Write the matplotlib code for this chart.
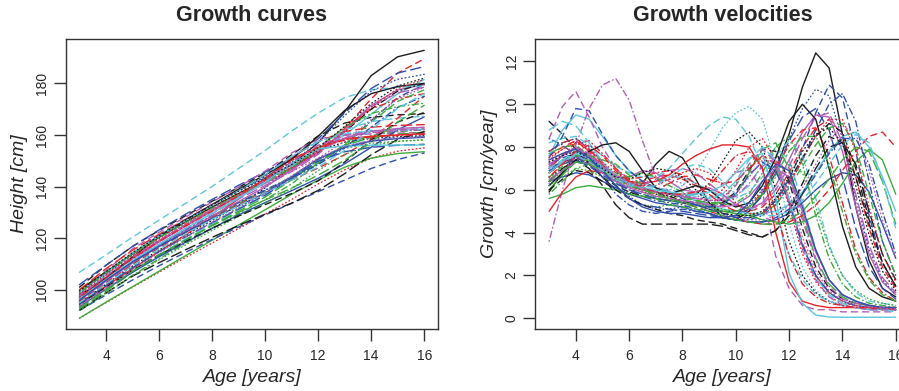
"""
Berkeley-style growth panel: smoothed heights and growth velocities, ages 3-16.
"""
import matplotlib
matplotlib.use('Agg')
import matplotlib.pyplot as plt

plt.rcParams['font.family'] = ['Liberation Sans', 'DejaVu Sans']
plt.rcParams['lines.scale_dashes'] = False

TEXT = '#262626'
FRAME = '#333333'
# matplot-style cycles: colours 1:6, line types 1:5
COLORS = ['#1c1c1c', '#e8222a', '#3bab3b', '#2f4fad', '#5cc6de', '#b35db6']
LTYS = ['-', (0, (4.5, 3.5)), (0, (0.5, 2.2)), (0, (0.5, 2.4, 4.5, 2.4)), (0, (7.5, 3.5))]

HEIGHT_AGES = [3, 4, 5, 6, 7, 8, 9, 10, 11, 12, 13, 14, 15, 16]
VELOCITY_AGES = [3.0, 3.5, 4.0, 4.5, 5.0, 5.5, 6.0, 6.5, 7.0, 7.5, 8.0, 8.5, 9.0, 9.5,
                 10.0, 10.5, 11.0, 11.5, 12.0, 12.5, 13.0, 13.5, 14.0, 14.5, 15.0, 15.5, 16.0]

# height [cm] per child at HEIGHT_AGES
heights = [
    [100, 107, 113.8, 120.3, 126.3, 132, 137.3, 142.5, 148.5, 157, 169, 183, 190.3, 192.8],
    [98, 105.2, 112.4, 119, 125.2, 131, 136.5, 141.8, 147.2, 153.5, 162.5, 174, 184, 189.5],
    [94, 101.4, 108.2, 114.5, 120.4, 126.2, 131.8, 137.5, 144.2, 150.5, 154.8, 156.8, 157.6, 158],
    [96, 103.8, 110.9, 117.2, 123, 128.5, 133.8, 138.7, 143.6, 149, 156, 165.5, 174.5, 179.5],
    [93, 100.3, 107.3, 113.6, 119.6, 125.5, 131.2, 136.8, 143, 150.6, 155.5, 158, 159, 159.5],
    [97, 104.6, 112, 118.5, 124.6, 130.5, 136.2, 141.3, 146.5, 153, 162, 171.5, 177.5, 179.5],
    [101, 109.5, 116.8, 123, 128.7, 134.3, 139.7, 145.2, 152.3, 159.6, 164.6, 166.8, 167.8, 168.3],
    [89, 95, 101, 106.8, 112.5, 118.1, 123.7, 129.3, 135, 141, 146.5, 151, 153.7, 155],
    [92, 98.6, 105.6, 112, 118, 123.9, 129.5, 134.9, 141, 149.2, 156.2, 159.8, 161.3, 162],
    [102, 109.5, 116.8, 123.2, 129.3, 135, 140.5, 145.6, 151, 158.5, 168.5, 178, 184, 186.5],
    [97, 105.8, 114, 121, 127.2, 133, 138.5, 143.5, 148.4, 153.6, 160, 168, 176, 181.5],
    [98, 107.5, 115.8, 122.3, 128.2, 134, 139.8, 146, 153, 158.5, 160, 160.4, 160.7, 161],
    [95, 102.2, 109.2, 115.4, 121.2, 126.9, 132.7, 139.5, 147.8, 154, 157.2, 158.7, 159.3, 159.7],
    [96.5, 104.4, 112.2, 119, 125.2, 131, 136.5, 141.5, 147, 154.5, 163, 170, 174, 176],
    [92.5, 99.5, 106.8, 113.2, 119.2, 125, 130.5, 135.9, 142.6, 150.2, 156, 159, 160.3, 161],
    [93.5, 100.2, 106.8, 112.8, 118.4, 123.8, 129, 133.8, 138.4, 143.2, 148.8, 155.2, 162, 167],
    [106.8, 113.5, 120.4, 127, 133.5, 140, 147, 154, 161.5, 168.5, 174.5, 177.5, 178.5, 179],
    [97.5, 105.3, 112.8, 119.3, 125.4, 131, 136.3, 141.1, 145.8, 151, 157.5, 166, 174, 178.5],
    [99, 106.6, 113.9, 120.3, 126.3, 132, 137.4, 142.3, 147.3, 153.3, 161.2, 170, 177, 180],
    [100, 108.2, 115.3, 121.5, 127.3, 133, 138.6, 144.4, 151.3, 157.5, 161.3, 163, 163.7, 164],
    [89, 95.2, 101.2, 107.2, 113.2, 119.2, 125.1, 131, 137, 142.5, 147.5, 151, 152.8, 153.5],
    [92, 98, 103.8, 109.3, 114.5, 119.5, 124.3, 129, 133.5, 138, 142.5, 147, 150.5, 153],
    [97, 104.5, 111.5, 117.8, 123.8, 129.8, 136, 143.2, 151.8, 157.6, 160.4, 161.6, 162.1, 162.4],
    [94, 100.8, 110.8, 119, 125.2, 131, 136.6, 142.2, 148.5, 155, 159, 160.9, 161.6, 162],
    [92, 98.8, 105.3, 110.5, 115.5, 120.3, 124.9, 129.3, 133.6, 138.5, 145, 152.3, 158.3, 161.3],
    [95, 101.4, 108.2, 114.8, 121.3, 128, 135.2, 143.2, 150.8, 155, 158.5, 159.5, 160, 160.5],
    [95, 102.4, 109.8, 116.3, 122.3, 128, 133.5, 138.5, 143.4, 148.8, 156.3, 165, 173, 177.5],
    [98.5, 106.5, 114.2, 121, 127.2, 133, 138.6, 143.8, 149.5, 157, 167.5, 177, 181.6, 183.5],
    [96, 103.6, 111, 117.6, 123.8, 129.9, 135.7, 141.4, 147.8, 155.6, 162, 165.2, 166.5, 167.3],
    [96, 103.6, 111, 117.5, 123.6, 129.5, 135.2, 140.4, 145.8, 152.5, 161.6, 171, 176.3, 178.5],
    [97.5, 104.7, 112.7, 120.5, 127, 133, 139, 144.5, 150.5, 159.5, 169.5, 176, 178.8, 180],
    [95.5, 102.8, 110, 116.4, 122.3, 127.8, 133, 137.8, 142.5, 147.2, 152.3, 158.5, 166.5, 175],
    [92, 98.7, 105.4, 111.6, 117.4, 123, 128.4, 133.5, 139.2, 146.2, 152.5, 156, 157.5, 158.2],
    [96.5, 103.8, 110.9, 117.3, 123.2, 128.7, 133.8, 138.5, 143.2, 148.5, 155, 163, 170.7, 175],
    [99, 106.8, 114.3, 120.7, 126.8, 132.7, 138.4, 144.6, 151.6, 157.4, 160.4, 161.6, 162, 162.2],
    [96, 103.3, 110.4, 116.8, 122.8, 128.6, 134.2, 139.8, 146.5, 153.6, 158.8, 161.4, 162.5, 163],
    [94.5, 101, 107.6, 113.5, 118.8, 123.8, 128.6, 133, 137.3, 142.2, 149.5, 158, 165, 168.7],
    [98, 105.9, 113.3, 119.9, 126, 131.8, 137.3, 142.4, 147.4, 153.3, 161.4, 170.7, 178, 181.5],
    [99, 106.8, 113.9, 120.2, 126, 131.6, 136.8, 141.8, 147.2, 154.8, 163, 168.3, 171, 172.3],
    [94.5, 101.7, 108.6, 114.8, 120.5, 126, 131.3, 136.6, 143.4, 149.8, 153.5, 155.2, 156, 156.4],
    [96.5, 104, 111.2, 117.6, 123.7, 129.6, 135.5, 141.7, 149, 154.6, 155.8, 156, 156.1, 156.1],
    [97.5, 105.2, 112.7, 119.2, 125.2, 131, 136.6, 142.4, 149.6, 156, 159.8, 161.4, 162, 162.4],
    [99.5, 107, 114.4, 120.9, 127, 132.8, 138.2, 143.2, 148.5, 155, 163.3, 172.2, 179, 182],
    [97, 104.6, 112.2, 118.7, 124.7, 130.5, 136.4, 143.1, 150.2, 155.3, 158, 159.3, 159.8, 160.2],
    [93, 100.1, 107.2, 113.5, 119.3, 124.8, 130, 134.8, 139.4, 144.4, 150.2, 157.3, 165, 171.5],
    [96, 103.7, 110.8, 116.8, 122.3, 127.6, 132.6, 137.5, 143.8, 150.7, 155.2, 157.6, 158.6, 159.1],
    [95, 102.3, 109.3, 115.7, 121.6, 127.3, 132.6, 137.6, 142.4, 147.6, 154, 162, 170.3, 176],
    [93.5, 100.5, 107.9, 114.4, 120.4, 126.1, 131.7, 137.3, 144, 151, 155.6, 157.9, 158.8, 159.3],
]

# growth velocity [cm/year] per child at VELOCITY_AGES
velocities = [
    [5.9, 6.8, 7.6, 7.3, 6.6, 6.0, 5.8, 6.3, 7.2, 7.8, 7.5, 6.5, 5.4, 4.7, 4.6, 5.0, 5.8, 7.0, 8.6, 10.8, 12.4, 11.7, 8.6, 5.2, 2.7, 1.4, 1.0],
    [7.6, 8.0, 8.3, 7.8, 7.0, 6.5, 6.3, 6.4, 6.6, 6.7, 6.5, 6.2, 5.8, 5.3, 5.0, 5.0, 5.2, 5.8, 6.8, 8.0, 8.9, 9.3, 8.6, 6.6, 4.2, 2.4, 1.4],
    [6.8, 7.3, 7.7, 7.4, 6.9, 6.2, 5.6, 5.3, 5.2, 5.3, 5.4, 5.4, 5.3, 5.6, 6.3, 7.1, 7.5, 7.0, 5.4, 3.4, 1.9, 1.2, 0.8, 0.6, 0.5, 0.5, 0.4],
    [8.4, 8.1, 7.6, 7.2, 6.8, 6.4, 6.0, 5.7, 5.5, 5.4, 5.3, 5.1, 4.9, 4.7, 4.6, 4.6, 4.8, 5.3, 6.2, 7.4, 8.8, 10.0, 10.5, 9.2, 6.4, 3.6, 2.0],
    [6.2, 6.8, 7.3, 7.2, 6.8, 6.4, 6.2, 6.3, 6.4, 6.6, 6.6, 6.3, 6.0, 5.7, 5.7, 6.2, 7.2, 8.0, 7.4, 5.4, 3.2, 1.8, 1.1, 0.8, 0.6, 0.5, 0.5],
    [7.0, 7.6, 8.0, 7.6, 7.0, 6.6, 6.6, 6.9, 6.8, 6.4, 6.0, 5.9, 6.1, 5.8, 5.3, 5.1, 5.4, 6.2, 7.4, 8.7, 9.5, 9.4, 7.8, 5.2, 3.0, 1.7, 1.1],
    [9.2, 8.6, 7.9, 7.2, 6.6, 6.2, 5.9, 5.7, 5.6, 5.5, 5.5, 5.4, 5.3, 5.4, 5.9, 6.9, 7.9, 7.8, 6.4, 4.2, 2.4, 1.4, 0.9, 0.7, 0.6, 0.5, 0.5],
    [7.4, 7.9, 8.3, 7.8, 7.1, 6.6, 6.3, 6.1, 5.9, 5.8, 5.7, 5.6, 5.6, 6.0, 6.9, 8.0, 8.4, 7.4, 5.2, 3.0, 1.7, 1.0, 0.7, 0.6, 0.5, 0.4, 0.4],
    [5.8, 6.4, 7.0, 7.2, 6.9, 6.5, 6.2, 6.0, 5.9, 5.8, 5.6, 5.5, 5.4, 5.3, 5.4, 5.8, 6.8, 8.0, 8.5, 7.2, 4.8, 2.8, 1.6, 1.0, 0.7, 0.6, 0.5],
    [7.2, 7.5, 7.7, 7.4, 6.9, 6.2, 5.6, 5.3, 5.2, 5.1, 5.0, 4.9, 4.8, 4.7, 4.8, 5.1, 5.7, 6.8, 8.3, 9.4, 9.8, 8.8, 6.6, 4.2, 2.4, 1.4, 0.9],
    [7.6, 8.8, 9.5, 9.3, 8.5, 7.6, 6.9, 6.4, 6.1, 5.9, 5.7, 5.5, 5.3, 5.1, 5.0, 4.9, 4.9, 5.0, 5.3, 5.9, 6.8, 7.8, 8.5, 8.7, 8.0, 6.6, 5.0],
    [8.4, 9.9, 10.6, 9.4, 8.0, 7.0, 6.4, 6.1, 5.9, 5.8, 5.8, 5.8, 5.9, 6.2, 6.8, 7.0, 5.9, 2.9, 1.4, 0.6, 0.4, 0.4, 0.3, 0.3, 0.3, 0.3, 0.3],
    [6.6, 7.0, 7.4, 7.2, 6.8, 6.4, 6.1, 5.9, 5.8, 5.7, 5.7, 5.8, 6.3, 7.3, 8.3, 8.7, 8.0, 6.0, 3.6, 2.0, 1.2, 0.8, 0.6, 0.5, 0.5, 0.4, 0.4],
    [7.0, 7.6, 8.2, 8.3, 7.7, 7.0, 6.5, 6.6, 6.8, 6.9, 6.7, 6.3, 5.8, 5.3, 5.0, 5.2, 5.9, 7.0, 8.1, 8.8, 8.9, 7.6, 5.4, 3.2, 1.9, 1.2, 0.8],
    [6.0, 6.7, 7.3, 7.4, 7.1, 6.7, 6.3, 6.1, 5.9, 5.8, 5.7, 5.5, 5.4, 5.4, 5.8, 6.8, 7.9, 8.2, 7.0, 4.8, 2.8, 1.6, 1.0, 0.7, 0.6, 0.5, 0.5],
    [6.4, 6.6, 6.8, 6.7, 6.4, 6.1, 5.8, 5.6, 5.4, 5.3, 5.2, 5.0, 4.9, 4.7, 4.6, 4.5, 4.5, 4.6, 4.9, 5.4, 6.0, 6.5, 6.8, 6.7, 5.9, 4.4, 2.8],
    [8.2, 8.4, 8.5, 8.1, 7.6, 7.1, 6.8, 6.6, 6.6, 7.0, 7.7, 8.4, 9.0, 9.4, 9.3, 8.5, 7.0, 5.0, 3.0, 1.8, 1.1, 0.8, 0.6, 0.5, 0.4, 0.4, 0.4],
    [7.3, 7.7, 8.0, 7.7, 7.2, 6.7, 6.4, 6.4, 6.4, 6.5, 6.3, 5.8, 5.3, 4.9, 4.7, 4.6, 4.6, 4.8, 5.3, 6.1, 7.2, 8.3, 9.0, 8.6, 6.9, 4.6, 2.8],
    [6.8, 7.3, 7.8, 7.6, 7.1, 6.6, 6.3, 6.1, 5.9, 5.7, 5.5, 5.3, 5.1, 4.9, 4.8, 4.7, 4.9, 5.5, 6.4, 7.5, 8.5, 9.1, 8.7, 7.0, 4.6, 2.6, 1.5],
    [7.8, 8.2, 8.4, 7.9, 7.2, 6.6, 6.2, 6.0, 6.0, 6.3, 6.6, 6.7, 6.5, 6.3, 6.4, 7.0, 7.6, 7.2, 5.6, 3.5, 2.0, 1.2, 0.8, 0.6, 0.5, 0.5, 0.4],
    [5.6, 5.8, 6.1, 6.2, 6.1, 6.0, 5.8, 5.7, 5.6, 5.5, 5.4, 5.3, 5.2, 5.0, 4.9, 4.8, 4.6, 4.5, 4.4, 4.5, 4.8, 5.4, 6.3, 7.3, 7.9, 7.4, 5.8],
    [7.5, 8.5, 9.8, 9.7, 8.6, 7.6, 6.9, 6.4, 6.1, 5.9, 5.6, 5.3, 5.1, 4.9, 4.7, 4.7, 4.9, 5.5, 6.5, 7.9, 9.6, 10.9, 10.3, 7.8, 4.8, 2.6, 1.5],
    [7.0, 7.4, 7.7, 7.5, 7.0, 6.6, 6.3, 6.1, 6.0, 6.0, 6.2, 6.8, 7.8, 8.9, 9.6, 9.9, 9.3, 7.2, 4.4, 2.4, 1.3, 0.8, 0.6, 0.5, 0.4, 0.4, 0.4],
    [3.6, 6.0, 8.1, 9.8, 10.9, 11.2, 10.2, 8.3, 6.6, 5.9, 5.7, 5.6, 5.5, 5.5, 5.7, 6.3, 7.1, 7.5, 6.6, 4.6, 2.7, 1.5, 0.9, 0.7, 0.6, 0.5, 0.5],
    [6.4, 7.0, 7.4, 7.0, 6.2, 5.3, 4.7, 4.4, 4.4, 4.4, 4.4, 4.4, 4.4, 4.3, 4.1, 3.9, 3.8, 4.1, 4.8, 5.8, 7.0, 8.0, 8.2, 7.2, 5.0, 3.0, 1.8],
    [5.0, 5.9, 6.6, 6.9, 6.8, 6.6, 6.4, 6.3, 6.4, 6.7, 7.2, 7.6, 7.9, 8.1, 8.1, 8.0, 7.0, 4.0, 1.7, 0.8, 0.6, 0.5, 0.5, 0.5, 0.5, 0.5, 0.5],
    [6.6, 7.1, 7.6, 7.5, 7.1, 6.8, 6.6, 6.8, 6.6, 6.2, 5.9, 5.5, 5.2, 5.0, 4.9, 4.8, 4.9, 5.3, 6.1, 7.1, 8.1, 8.9, 9.1, 8.0, 5.8, 3.6, 2.0],
    [7.8, 8.2, 8.4, 8.0, 7.3, 6.5, 5.7, 5.3, 5.1, 5.1, 5.2, 5.3, 5.1, 5.0, 5.0, 5.3, 6.0, 7.1, 8.4, 9.8, 10.7, 10.4, 8.4, 5.6, 3.2, 1.8, 1.1],
    [6.9, 7.4, 7.8, 7.6, 7.1, 6.7, 6.4, 6.2, 6.1, 6.0, 5.9, 5.8, 5.7, 5.6, 5.6, 5.9, 6.6, 7.6, 8.3, 7.6, 5.6, 3.4, 2.0, 1.2, 0.8, 0.7, 0.6],
    [7.2, 7.6, 7.9, 7.6, 7.1, 6.6, 6.3, 6.2, 6.5, 6.9, 7.0, 6.8, 6.3, 5.8, 5.3, 5.1, 5.3, 6.0, 7.1, 8.4, 9.4, 9.6, 8.2, 5.8, 3.4, 1.9, 1.2],
    [6.2, 6.8, 7.4, 7.8, 8.1, 8.2, 7.8, 6.9, 6.1, 5.8, 6.0, 6.2, 6.0, 5.5, 5.2, 5.4, 6.2, 7.5, 9.2, 10.0, 9.3, 7.0, 4.3, 2.4, 1.4, 1.0, 0.8],
    [6.8, 7.2, 7.5, 7.3, 6.9, 6.5, 6.2, 6.0, 5.8, 5.6, 5.4, 5.2, 5.0, 4.8, 4.6, 4.5, 4.4, 4.4, 4.5, 4.8, 5.3, 6.0, 6.9, 7.8, 8.5, 8.7, 8.0],
    [6.2, 6.6, 7.0, 6.9, 6.6, 6.3, 6.0, 5.8, 5.7, 5.6, 5.5, 5.4, 5.2, 5.1, 5.0, 5.2, 5.8, 6.6, 7.2, 6.8, 5.2, 3.3, 2.0, 1.3, 0.9, 0.7, 0.6],
    [7.0, 7.3, 7.5, 7.2, 6.6, 5.8, 5.3, 5.0, 4.9, 5.0, 5.1, 5.0, 4.9, 4.7, 4.6, 4.5, 4.5, 4.7, 5.1, 5.8, 6.7, 7.7, 8.4, 8.4, 7.2, 5.0, 3.0],
    [8.8, 9.2, 9.0, 8.2, 7.3, 6.6, 6.3, 6.1, 6.0, 5.9, 5.8, 5.7, 5.6, 5.8, 6.4, 7.4, 8.0, 7.4, 5.6, 3.4, 1.9, 1.1, 0.7, 0.5, 0.4, 0.4, 0.3],
    [6.5, 6.9, 7.3, 7.2, 6.8, 6.4, 6.1, 5.9, 5.7, 5.6, 5.5, 5.4, 5.3, 5.2, 5.3, 5.7, 6.4, 7.0, 6.6, 5.0, 3.1, 1.8, 1.1, 0.8, 0.6, 0.5, 0.5],
    [6.0, 6.5, 6.9, 6.8, 6.4, 6.0, 5.6, 5.3, 5.1, 4.9, 4.8, 4.6, 4.5, 4.4, 4.2, 4.0, 3.8, 4.1, 5.0, 6.3, 7.6, 8.5, 8.2, 6.6, 4.4, 2.6, 1.5],
    [7.5, 7.9, 8.2, 7.9, 7.3, 6.8, 6.4, 6.2, 6.2, 6.5, 6.8, 7.0, 6.8, 6.2, 5.4, 4.9, 4.9, 5.4, 6.3, 7.4, 8.5, 9.3, 9.3, 7.8, 5.2, 3.0, 1.7],
    [7.7, 8.0, 8.1, 7.6, 7.4, 7.2, 6.7, 6.2, 5.6, 5.3, 5.2, 5.1, 5.0, 5.0, 5.0, 5.2, 5.8, 6.7, 7.8, 8.5, 8.5, 7.2, 5.0, 3.0, 1.8, 1.1, 0.8],
    [6.9, 7.2, 7.4, 7.1, 6.7, 6.3, 6.0, 5.8, 5.6, 5.5, 5.4, 5.3, 5.2, 5.3, 5.8, 6.7, 7.3, 6.9, 5.4, 3.4, 2.0, 1.2, 0.8, 0.6, 0.5, 0.5, 0.4],
    [6.8, 7.3, 7.7, 7.5, 7.0, 6.6, 6.3, 6.1, 6.0, 5.9, 5.8, 5.8, 5.9, 6.2, 6.8, 7.5, 7.7, 5.6, 2.1, 0.7, 0.15, 0.06, 0.05, 0.05, 0.05, 0.05, 0.05],
    [7.1, 7.6, 8.0, 7.7, 7.1, 6.6, 6.2, 6.0, 5.9, 5.8, 5.7, 5.6, 5.5, 5.6, 6.2, 7.2, 7.9, 7.3, 5.4, 3.2, 1.8, 1.0, 0.6, 0.5, 0.4, 0.4, 0.4],
    [7.3, 7.6, 7.8, 7.5, 7.0, 6.6, 6.5, 6.8, 7.0, 6.9, 6.6, 6.0, 5.4, 4.9, 4.8, 4.8, 5.0, 5.6, 6.6, 7.8, 8.6, 8.9, 8.2, 6.2, 3.9, 2.2, 1.3],
    [6.6, 7.2, 7.8, 8.1, 7.6, 6.9, 6.4, 6.1, 5.9, 5.8, 5.8, 5.9, 6.2, 6.9, 7.6, 7.8, 7.0, 5.0, 2.9, 1.6, 1.0, 0.7, 0.6, 0.5, 0.5, 0.5, 0.4],
    [6.4, 6.9, 7.3, 7.2, 6.9, 6.5, 6.2, 6.0, 5.8, 5.6, 5.4, 5.2, 5.0, 4.8, 4.6, 4.5, 4.4, 4.4, 4.6, 5.0, 5.7, 6.5, 7.4, 8.0, 7.8, 6.4, 4.4],
    [7.4, 7.7, 7.9, 7.5, 6.9, 6.2, 5.6, 5.2, 5.0, 4.9, 4.9, 4.8, 4.7, 4.7, 4.8, 5.4, 6.4, 7.2, 6.9, 5.2, 3.2, 1.8, 1.1, 0.8, 0.6, 0.5, 0.5],
    [7.0, 7.4, 7.6, 7.3, 6.9, 6.5, 6.2, 6.1, 6.2, 6.6, 7.0, 7.2, 7.0, 6.4, 5.8, 5.2, 4.8, 4.8, 5.0, 5.5, 6.3, 7.2, 8.1, 8.6, 8.2, 6.5, 4.2],
    [6.3, 6.9, 7.5, 7.6, 7.2, 6.7, 6.3, 6.1, 5.9, 5.8, 5.7, 5.6, 5.5, 5.5, 5.8, 6.6, 7.4, 7.3, 5.9, 3.8, 2.2, 1.3, 0.8, 0.6, 0.5, 0.5, 0.4],
]


def style_axes(ax, yticks, ylabel, title):
    for spine in ax.spines.values():
        spine.set_color(FRAME)
        spine.set_linewidth(1.0)
    ax.set_xlim(2.48, 16.52)
    ax.set_xticks([4, 6, 8, 10, 12, 14, 16])
    ax.set_yticks(yticks)
    ax.tick_params(direction='out', length=8.5, width=1.0, color=FRAME,
                   labelsize=10, labelcolor=TEXT, pad=6)
    ax.tick_params(axis='y', pad=3.5)
    plt.setp(ax.get_yticklabels(), rotation=90, va='center')
    ax.set_xlabel('Age [years]', fontsize=14, style='italic', color=TEXT, va='center')
    ax.set_ylabel(ylabel, fontsize=14, style='italic', color=TEXT, va='center')
    ax.xaxis.set_label_coords(0.5, -0.169)
    ax.yaxis.set_label_coords(-0.123, 0.5)
    ax.text(0.5, 1.08, title, transform=ax.transAxes, ha='center', va='center',
            fontsize=15.5, fontweight='bold', color=TEXT)


def draw_curves(ax, ages, curves):
    for i, vals in enumerate(curves):
        ax.plot(ages, vals, color=COLORS[i % 6], linestyle=LTYS[i % 5], lw=1.0,
                dash_capstyle='round', solid_capstyle='round')


fig = plt.figure(figsize=(8.99, 3.91), dpi=100)

ax1 = fig.add_axes([0.0731, 0.1586, 0.4141, 0.7417])
draw_curves(ax1, HEIGHT_AGES, heights)
ax1.set_ylim(84.8, 197.2)
style_axes(ax1, [100, 120, 140, 160, 180], 'Height [cm]', 'Growth curves')

ax2 = fig.add_axes([0.5954, 0.1586, 0.4164, 0.7417])
draw_curves(ax2, VELOCITY_AGES, velocities)
ax2.set_ylim(-0.5, 13.05)
style_axes(ax2, [0, 2, 4, 6, 8, 10, 12], 'Growth [cm/year]', 'Growth velocities')

fig.savefig('out.png', dpi=100, facecolor='white')
